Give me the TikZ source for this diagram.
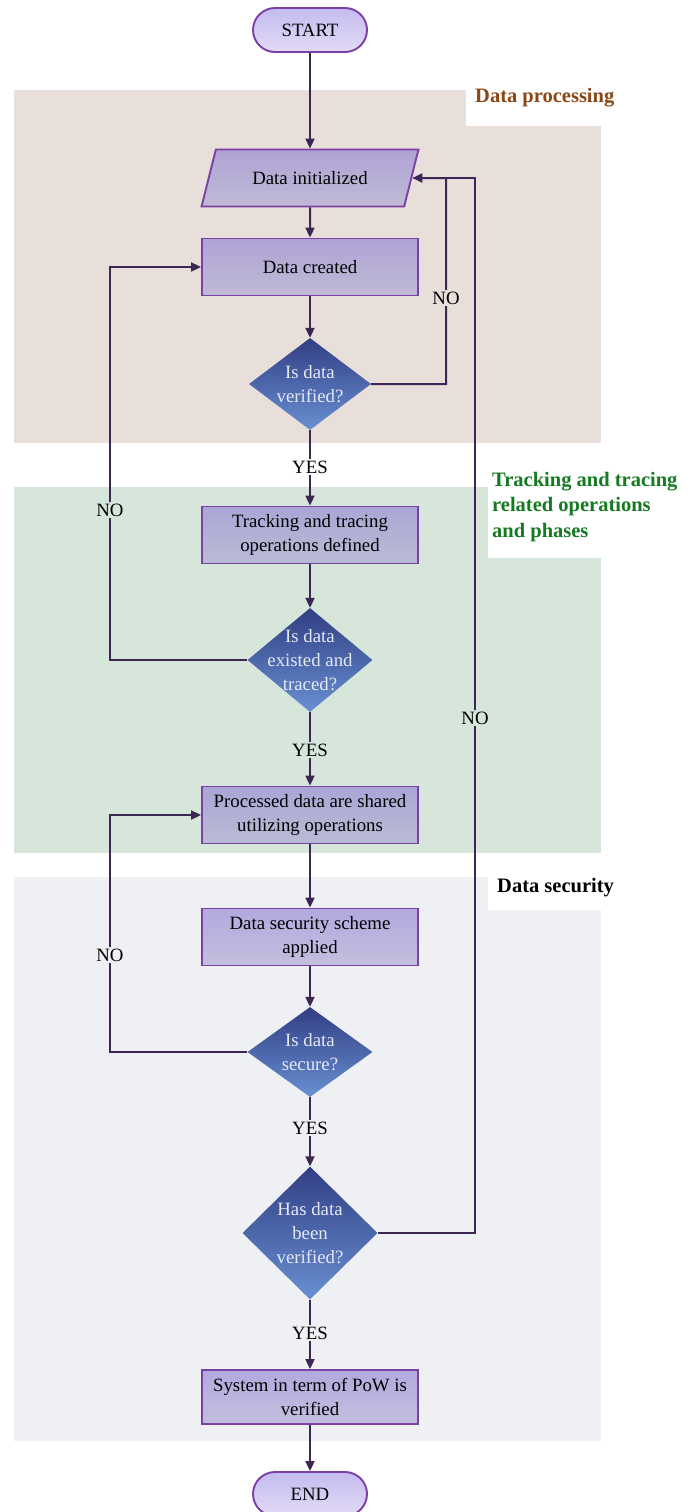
\documentclass[tikz,border=0pt]{standalone}
\usepackage{fontspec}
\setmainfont{Liberation Serif}
\usetikzlibrary{arrows.meta,shapes.geometric}

\definecolor{bgproc}{RGB}{232,223,219}
\definecolor{bgtrack}{RGB}{214,230,219}
\definecolor{bgsec}{RGB}{239,240,243}
\definecolor{flowline}{RGB}{62,38,84}
\definecolor{boxborder}{RGB}{122,64,166}
\definecolor{boxtop}{RGB}{146,132,212}
\definecolor{boxbot}{RGB}{170,166,210}
\definecolor{termtop}{RGB}{196,187,239}
\definecolor{termbot}{RGB}{226,219,245}
\definecolor{dectop}{RGB}{50,62,132}
\definecolor{decbot}{RGB}{104,144,210}
\definecolor{dectext}{RGB}{228,232,246}
\definecolor{procbrown}{RGB}{140,70,20}
\definecolor{trackgreen}{RGB}{22,122,34}

\newcommand\flowfont{\fontsize{18.8}{24}\selectfont}
\newcommand\areafont{\fontsize{20.5}{25.5}\selectfont\bfseries}

\begin{document}
\begin{tikzpicture}[x=1pt,y=-1pt,
    terminal/.style={rectangle,rounded corners=22pt,draw=boxborder,line width=1.9pt,
        top color=termtop,bottom color=termbot,minimum width=114pt,minimum height=44pt,
        font=\flowfont},
    procbox/.style={rectangle,draw=boxborder,line width=1.9pt,
        top color=boxtop,bottom color=boxbot,fill opacity=0.65,draw opacity=1,text opacity=1,
        minimum width=216pt,minimum height=57pt,align=center,font=\flowfont},
    inputbox/.style={procbox,trapezium,trapezium left angle=65,trapezium right angle=115,
        trapezium stretches=true,minimum width=217pt},
    decision/.style={diamond,top color=dectop,bottom color=decbot,inner sep=0pt},
    dtext/.style={align=center,text=dectext,font=\flowfont,inner sep=0pt},
    yesno/.style={font=\flowfont,inner sep=2pt},
    flow/.style={draw=flowline,line width=2pt,-{Triangle[length=10pt,width=9pt]}},
    link/.style={draw=flowline,line width=2pt}]

\useasboundingbox (0,0) rectangle (696,1512);
\fill[white] (0,0) rectangle (696,1512);

% phase areas
\fill[bgproc] (14,90) rectangle (601,443);
\fill[white] (466,80) rectangle (696,126);
\node[anchor=west,text=procbrown,font=\areafont,inner sep=0pt] (procarea) at (475,98) {Data processing};

\fill[bgtrack] (14,487) rectangle (601,853);
\fill[white] (488,468) rectangle (696,558);
\node[anchor=west,text=trackgreen,font=\areafont,align=left,inner sep=0pt] (trackarea) at (492,507)
    {Tracking and tracing\\related operations\\and phases};

\fill[bgsec] (14,877) rectangle (601,1441);
\fill[white] (488,868) rectangle (616,910);
\node[anchor=west,font=\areafont,inner sep=0pt] (secarea) at (497,888) {Data security};

% flow nodes
\node[terminal] (start) at (310,30) {START};
\node[inputbox] (init) at (310,178) {Data initialized};
\node[procbox] (create) at (310,267) {Data created};
\node[decision,minimum width=122pt,minimum height=92pt] (d1) at (310,384) {};
\node[dtext] at (d1) {Is data\\verified?};
\node[procbox] (track) at (310,535) {Tracking and tracing\\operations defined};
\node[decision,minimum width=125pt,minimum height=104pt] (d2) at (310,660) {};
\node[dtext] at (d2) {Is data\\existed and\\traced?};
\node[procbox] (share) at (310,815) {Processed data are shared\\utilizing operations};
\node[procbox] (secure) at (310,937) {Data security scheme\\applied};
\node[decision,minimum width=125pt,minimum height=90pt] (d3) at (310,1052) {};
\node[dtext] at (d3) {Is data\\secure?};
\node[decision,minimum width=135pt,minimum height=133pt] (d4) at (310,1233) {};
\node[dtext] at (d4) {Has data\\been\\verified?};
\node[procbox,minimum height=54pt] (pow) at (310,1397) {System in term of PoW is\\verified};
\node[terminal] (end) at (310,1494) {END};

% turning points of the loops
\coordinate (r1) at (446,178);
\coordinate (r2) at (475,178);
\coordinate (l1) at (110,267);
\coordinate (l2) at (110,815);

% connectors
\draw[flow] (start) -- (init);
\draw[flow] (init) -- (create);
\draw[flow] (create) -- (d1);
\draw[flow] (d1) -- (track);
\draw[flow] (track) -- (d2);
\draw[flow] (d2) -- (share);
\draw[flow] (share) -- (secure);
\draw[flow] (secure) -- (d3);
\draw[flow] (d3) -- (d4);
\draw[flow] (d4) -- (pow);
\draw[flow] (pow) -- (end);

\draw[link] (d4.east) -| (r2) -- (r1);
\draw[flow] (d1.east) -| (r1) -- (init.east);
\draw[flow] (d2.west) -| (l1) -- (create.west);
\draw[flow] (d3.west) -| (l2) -- (share.west);

% branch labels
\node[yesno,fill=bgproc] (no1) at (446,298) {NO};
\node[yesno,fill=white] (yes1) at (310,467) {YES};
\node[yesno,fill=bgtrack] (no2) at (110,510) {NO};
\node[yesno,fill=bgtrack] (no4) at (475,718) {NO};
\node[yesno,fill=bgtrack] (yes2) at (310,750) {YES};
\node[yesno,fill=bgsec] (no3) at (110,955) {NO};
\node[yesno,fill=bgsec] (yes3) at (310,1128) {YES};
\node[yesno,fill=bgsec] (yes4) at (310,1333) {YES};
\end{tikzpicture}
\end{document}
